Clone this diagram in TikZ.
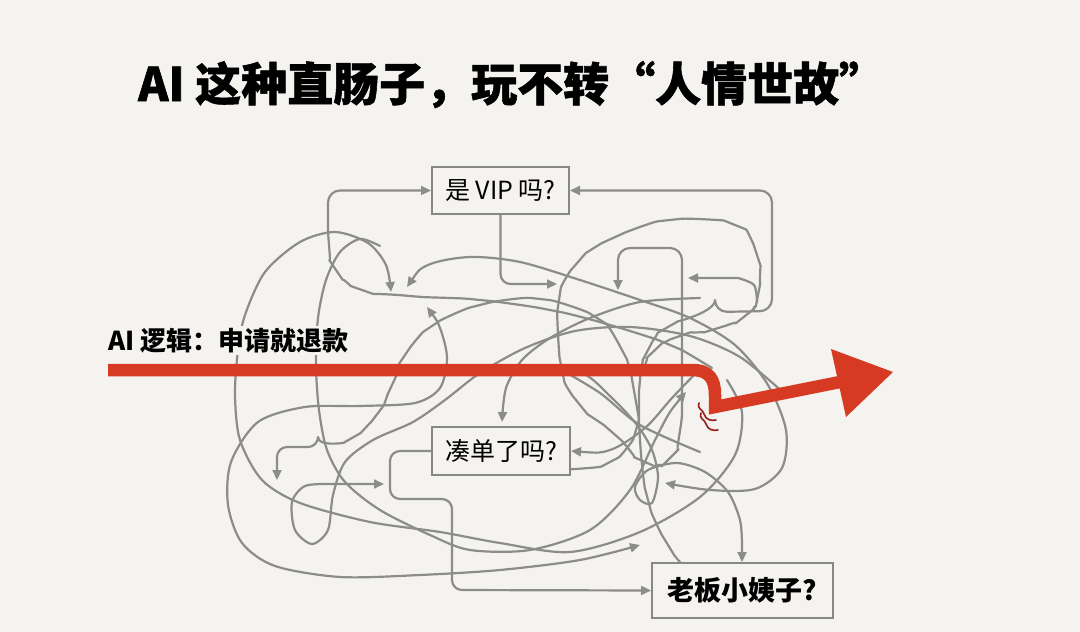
\documentclass[tikz,border=0pt]{standalone}
\usepackage{fontspec}
\setmainfont{Noto Sans CJK SC}
\usetikzlibrary{arrows.meta}
\definecolor{bg}{RGB}{245,243,239}
\definecolor{lg}{RGB}{140,140,140}
\definecolor{bx}{RGB}{135,135,135}
\definecolor{rd}{RGB}{214,58,34}
\definecolor{drd}{RGB}{150,30,25}
\tikzset{
  g/.style={draw=lg, line width=2.2pt, line cap=round, line join=round},
  tip/.style={-{Triangle[length=10pt,width=9pt]}},
  rtip/.style={{Triangle[length=10pt,width=9pt]}-},
  btip/.style={{Triangle[length=10pt,width=9pt]}-{Triangle[length=10pt,width=9pt]}},
  qbox/.style={draw=bx, line width=2pt, fill=bg, inner sep=0pt, align=center},
}
\begin{document}
\begin{tikzpicture}[x=1pt,y=-1pt]
\useasboundingbox (0,0) rectangle (1080,632);
\fill[bg] (0,0) rectangle (1080,632);

% boxes (positions used by the connectors)
\node[qbox, minimum width=137pt, minimum height=47pt, font=\fontsize{25}{28}\selectfont] (vip) at (500.5,190.5) {是 VIP 吗?};
\node[qbox, minimum width=138pt, minimum height=48pt, font=\fontsize{25}{28}\selectfont] (ch) at (501,451) {凑单了吗?};
\node[qbox, minimum width=181pt, minimum height=55pt, font=\fontsize{27}{30}\selectfont\bfseries] (lb) at (742.5,590.5) {老板小姨子?};

\coordinate (c3) at (557,284);

% tangle
\draw[g, tip, rounded corners=12pt] plot[smooth] coordinates {(712,368) (670,345) (610,325) (550,310) (480,300) (410,296) (362,290) (336,270) (328,240)} |- (vip.west);
\draw[g, tip, rounded corners=12pt] plot[smooth] coordinates {(700,585) (668,545) (648,500) (640,440) (640,380) (648,350) (668,327) (715,312)} -- (772,311) |- (vip.east);
\draw[g, tip, rounded corners=10pt] (vip.south) |- (c3);
\draw[g, tip, rounded corners=12pt] plot[smooth] coordinates {(642,372) (655,350) (680,336) (715,329) (745,316) (758,295) (757,255) (735,225) (670,220) (613,238) (578,262) (559,300) (562,370) (580,405) (613,433) (645,462) (670,458) (682,425)} -- (682,248) -| (618,290);
\draw[g, tip] plot[smooth] coordinates {(757,302) (754,285) (738,278)} -- (688,278);
\draw[g, tip] plot[smooth] coordinates {(700,298) (640,302) (590,318) (550,338) (522,360) (506,388) (502,422)};
\draw[g, tip] plot[smooth] coordinates {(727,380) (742,412) (735,455) (700,497) (640,532) (570,552) (500,543) (440,532) (370,522) (300,503) (262,480) (240,440) (235,395) (238,350) (245,315) (265,272) (300,242) (335,232) (368,243) (386,265) (391,292)};
\draw[g, tip] plot[smooth] coordinates {(380,246) (360,239) (340,252) (326,280) (318,318) (316,365) (319,410) (327,450) (345,482) (380,510) (430,535) (470,550) (530,550) (590,530) (630,490) (655,440) (670,412) (686,392)};
\draw[g, btip] plot[smooth] coordinates {(427,307) (440,328) (447,358) (440,388) (415,403) (360,406) (305,407) (258,422) (231,462) (228,505) (242,543) (275,566) (340,577) (420,575) (500,570) (580,560) (640,545)};
\draw[g, btip] plot[smooth] coordinates {(407,287) (428,265) (470,257) (520,262) (580,280) (640,300) (690,318) (735,345) (768,385) (786,430) (782,468) (755,489) (710,490) (665,483)};
\draw[g, rtip] plot[smooth] coordinates {(ch.east) (610,450) (645,428) (672,398) (697,372)};
\draw[g, tip] plot[smooth] coordinates {(525,368) (580,372) (612,398) (637,425) (652,450) (658,477) (652,503) (640,500) (635,487) (648,470) (677,463) (705,472) (728,492) (740,520) (742,545)} -- (742,562);
\draw[g, tip, rounded corners=10pt] (ch.west) -- (390,451) -- (390,499) -- (452,499) -- (452,590) -- (lb.west);
\draw[g, tip, rounded corners=10pt] plot[smooth] coordinates {(560,470) (610,462) (636,430) (633,385) (622,350) (597,318) (540,299) (480,305) (432,326) (405,355) (392,385) (378,413) (352,438) (318,447)} -- (277,447) -- (277,480);
\draw[g, tip] plot[smooth] coordinates {(786,395) (740,357) (690,336) (630,327) (575,331) (525,348) (480,373) (445,400) (413,422) (373,440) (345,462) (333,495) (328,530) (312,544) (295,530) (292,502) (305,486) (330,484)} -- (384,484);
\draw[g] plot[smooth] coordinates {(560,369) (600,393) (640,425) (700,452)};

% redraw boxes on top of lines
\node[qbox, minimum width=137pt, minimum height=47pt, font=\fontsize{25}{28}\selectfont] at (vip) {是 VIP 吗?};
\node[qbox, minimum width=138pt, minimum height=48pt, font=\fontsize{25}{28}\selectfont] at (ch) {凑单了吗?};
\node[qbox, minimum width=181pt, minimum height=55pt, font=\fontsize{27}{30}\selectfont\bfseries] at (lb) {老板小姨子?};

% title and label
\node[anchor=base west, inner sep=0pt, font=\fontsize{46}{50}\selectfont\bfseries\addfontfeature{FakeBold=1.2}] (title) at (138,101) {AI 这种直肠子，玩不转“人情世故”};
\node[anchor=base west, inner sep=2pt, fill=bg, font=\fontsize{26}{30}\selectfont\bfseries] (logic) at (106,350) {AI 逻辑：申请就退款};

% red arrow
\coordinate (rs) at (108,370);
\coordinate (rb) at (715,407);
\coordinate (rh) at (840,382);
\draw[rd, line width=12.5pt, line join=miter] (rs) -- (692,370) .. controls (710,370) and (715,380) .. (715,395) -- (rb) -- (rh);
\fill[rd] (831,349) -- (893,372) -- (846,417) -- cycle;
\draw[drd, line width=1.6pt, line cap=round] (699,403) .. controls (697,410) and (703,409) .. (704,414) .. controls (706,420) and (711,421) .. (716,420);
\draw[drd, line width=1.6pt, line cap=round] (701,413) .. controls (699,420) and (705,419) .. (706,424) .. controls (708,430) and (713,431) .. (718,430);
\end{tikzpicture}
\end{document}
